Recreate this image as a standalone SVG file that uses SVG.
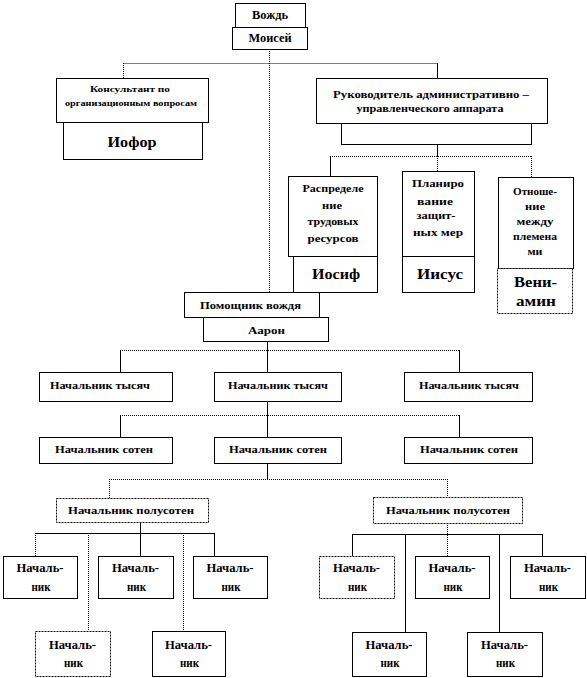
<svg xmlns="http://www.w3.org/2000/svg" width="587" height="678" viewBox="0 0 587 678">
<style>
.bx{fill:#fff;stroke:#000;stroke-width:1}
.bd{fill:#fff;stroke:#000;stroke-width:1;stroke-dasharray:2 1}
.t{font-family:"Liberation Serif","Times New Roman",serif;font-weight:bold;fill:#000;text-anchor:middle}
.s9{font-size:9px}
.s11{font-size:11px}
.s12{font-size:12px}
.s15{font-size:15px}
.c{fill:none;stroke:#000;stroke-width:1}
.cd{fill:none;stroke:#000;stroke-width:1;stroke-dasharray:1 1}
</style>
<rect width="587" height="678" fill="#fff"/>
<g id="connectors">
<path class="cd" d="M269.5 49V292M123.5 63.5H437M123.5 63V78"/>
<path class="c" d="M437.5 63V78M437.5 144V156"/>
<path class="cd" d="M437.5 156V171M330 156.5H531.5M531.5 156V177"/>
<path class="c" d="M330.5 156V176"/>
<path class="cd" d="M120 350.5H459"/>
<path class="c" d="M120.5 350V372M459.5 350V372M267.5 341V372M267.5 395V437"/>
<path class="cd" d="M120 415.5H459"/>
<path class="c" d="M120.5 415V437M459.5 415V437M267.5 463V479"/>
<path class="cd" d="M109 479.5H447.5M109.5 479V498M447.5 479V497"/>
<path class="c" d="M35 533.5H214.5M140.5 522V533M140.5 533V556M214.5 533V556"/>
<path class="cd" d="M35.5 533V556M88.5 533V631M183.5 533V631"/>
<path class="c" d="M352 534.5H542.5M352.5 534V556M405.5 534V632M499.5 534V632M542.5 534V556"/>
<path class="cd" d="M447.5 523V556"/>
</g>
<g id="vozhd"><rect class="bx" x="235.5" y="3.5" width="70" height="24"/><text class="t s12" x="270" y="19" textLength="36" lengthAdjust="spacingAndGlyphs">Вождь</text></g>
<g id="moisey"><rect class="bx" x="232.5" y="27.5" width="75" height="22"/><text class="t s12" x="270" y="42" textLength="43" lengthAdjust="spacingAndGlyphs">Моисей</text></g>
<g id="konsultant"><rect class="bx" x="56.5" y="78.5" width="152" height="44"/><text class="t s9" x="130" y="92" textLength="80" lengthAdjust="spacingAndGlyphs">Консультант по</text><text class="t s9" x="131" y="106" textLength="132" lengthAdjust="spacingAndGlyphs">организационным вопросам</text></g>
<g id="iofor"><rect class="bx" x="63.5" y="122.5" width="139" height="37"/><text class="t s15" x="132" y="147" textLength="49" lengthAdjust="spacingAndGlyphs">Иофор</text></g>
<g id="rukovoditel"><rect class="bx" x="316.5" y="78.5" width="231" height="45"/><text class="t s11" x="431" y="98" textLength="196" lengthAdjust="spacingAndGlyphs">Руководитель административно –</text><text class="t s11" x="430" y="112" textLength="147" lengthAdjust="spacingAndGlyphs">управленческого аппарата</text></g>
<g id="apparat"><rect class="bx" x="341.5" y="123.5" width="190" height="21"/></g>
<g id="raspredelenie"><rect class="bx" x="288.5" y="176.5" width="89" height="80"/><text class="t s11" x="333" y="192" textLength="61" lengthAdjust="spacingAndGlyphs">Распределе</text><text class="t s11" x="332" y="209" textLength="20" lengthAdjust="spacingAndGlyphs">ние</text><text class="t s11" x="333" y="225" textLength="51" lengthAdjust="spacingAndGlyphs">трудовых</text><text class="t s11" x="333" y="242" textLength="51" lengthAdjust="spacingAndGlyphs">ресурсов</text></g>
<g id="iosif"><rect class="bx" x="293.5" y="256.5" width="84" height="36"/><text class="t s15" x="336" y="279" textLength="48" lengthAdjust="spacingAndGlyphs">Иосиф</text></g>
<g id="planirovanie"><rect class="bx" x="402.5" y="171.5" width="72" height="85"/><text class="t s11" x="438" y="187" textLength="52" lengthAdjust="spacingAndGlyphs">Планиро</text><text class="t s11" x="435" y="205" textLength="36" lengthAdjust="spacingAndGlyphs">вание</text><text class="t s11" x="436" y="219" textLength="39" lengthAdjust="spacingAndGlyphs">защит-</text><text class="t s11" x="438" y="236" textLength="50" lengthAdjust="spacingAndGlyphs">ных мер</text></g>
<g id="iisus"><rect class="bx" x="402.5" y="256.5" width="72" height="36"/><text class="t s15" x="440" y="279" textLength="46" lengthAdjust="spacingAndGlyphs">Иисус</text></g>
<g id="otnoshenie"><rect class="bx" x="498.5" y="177.5" width="75" height="91"/><text class="t s11" x="535" y="195" textLength="44" lengthAdjust="spacingAndGlyphs">Отноше-</text><text class="t s11" x="535" y="210" textLength="20" lengthAdjust="spacingAndGlyphs">ние</text><text class="t s11" x="535" y="225" textLength="37" lengthAdjust="spacingAndGlyphs">между</text><text class="t s11" x="535" y="240" textLength="44" lengthAdjust="spacingAndGlyphs">племена</text><text class="t s11" x="535" y="255" textLength="15" lengthAdjust="spacingAndGlyphs">ми</text></g>
<g id="veniamin"><rect class="bd" x="497.5" y="268.5" width="75" height="45"/><text class="t s15" x="535.5" y="287" textLength="43" lengthAdjust="spacingAndGlyphs">Вени-</text><text class="t s15" x="536" y="306" textLength="40" lengthAdjust="spacingAndGlyphs">амин</text></g>
<g id="pomoshnik"><rect class="bx" x="184.5" y="292.5" width="135" height="25"/><text class="t s11" x="250.5" y="309" textLength="101" lengthAdjust="spacingAndGlyphs">Помощник вождя</text></g>
<g id="aaron"><rect class="bx" x="203.5" y="317.5" width="125" height="24"/><text class="t s11" x="266.5" y="334" textLength="37" lengthAdjust="spacingAndGlyphs">Аарон</text></g>
<g id="tysyach1"><rect class="bx" x="39.5" y="372.5" width="133" height="29"/><text class="t s11" x="100" y="389" textLength="100" lengthAdjust="spacingAndGlyphs">Начальник тысяч</text></g>
<g id="tysyach2"><rect class="bx" x="214.5" y="372.5" width="127" height="29"/><text class="t s11" x="278" y="389" textLength="100" lengthAdjust="spacingAndGlyphs">Начальник тысяч</text></g>
<g id="tysyach3"><rect class="bx" x="404.5" y="372.5" width="128" height="29"/><text class="t s11" x="469" y="389" textLength="100" lengthAdjust="spacingAndGlyphs">Начальник тысяч</text></g>
<g id="soten1"><rect class="bx" x="39.5" y="437.5" width="133" height="26"/><text class="t s11" x="104" y="453" textLength="98" lengthAdjust="spacingAndGlyphs">Начальник сотен</text></g>
<g id="soten2"><rect class="bx" x="214.5" y="437.5" width="127" height="26"/><text class="t s11" x="278" y="453" textLength="98" lengthAdjust="spacingAndGlyphs">Начальник сотен</text></g>
<g id="soten3"><rect class="bx" x="404.5" y="437.5" width="128" height="26"/><text class="t s11" x="469" y="453" textLength="98" lengthAdjust="spacingAndGlyphs">Начальник сотен</text></g>
<g id="polusoten1"><rect class="bd" x="56.5" y="498.5" width="152" height="24"/><text class="t s11" x="131" y="514" textLength="126" lengthAdjust="spacingAndGlyphs">Начальник полусотен</text></g>
<g id="polusoten2"><rect class="bd" x="373.5" y="497.5" width="149" height="26"/><text class="t s11" x="448" y="514" textLength="124" lengthAdjust="spacingAndGlyphs">Начальник полусотен</text></g>
<g id="nach1"><rect class="bx" x="3.5" y="556.5" width="74" height="42"/><text class="t s12" x="40" y="572" textLength="47" lengthAdjust="spacingAndGlyphs">Началь-</text><text class="t s12" x="41" y="591" textLength="19" lengthAdjust="spacingAndGlyphs">ник</text></g>
<g id="nach2"><rect class="bx" x="98.5" y="556.5" width="75" height="42"/><text class="t s12" x="135.5" y="572" textLength="47" lengthAdjust="spacingAndGlyphs">Началь-</text><text class="t s12" x="136.5" y="591" textLength="19" lengthAdjust="spacingAndGlyphs">ник</text></g>
<g id="nach3"><rect class="bx" x="193.5" y="556.5" width="74" height="42"/><text class="t s12" x="230" y="572" textLength="47" lengthAdjust="spacingAndGlyphs">Началь-</text><text class="t s12" x="231" y="591" textLength="19" lengthAdjust="spacingAndGlyphs">ник</text></g>
<g id="nach4"><rect class="bd" x="35.5" y="631.5" width="75" height="45"/><text class="t s12" x="72.5" y="649" textLength="47" lengthAdjust="spacingAndGlyphs">Началь-</text><text class="t s12" x="73.5" y="667" textLength="19" lengthAdjust="spacingAndGlyphs">ник</text></g>
<g id="nach5"><rect class="bx" x="152.5" y="631.5" width="73" height="45"/><text class="t s12" x="188.5" y="649" textLength="47" lengthAdjust="spacingAndGlyphs">Началь-</text><text class="t s12" x="189.5" y="667" textLength="19" lengthAdjust="spacingAndGlyphs">ник</text></g>
<g id="nach6"><rect class="bd" x="319.5" y="556.5" width="75" height="42"/><text class="t s12" x="356.5" y="572" textLength="47" lengthAdjust="spacingAndGlyphs">Началь-</text><text class="t s12" x="357.5" y="591" textLength="19" lengthAdjust="spacingAndGlyphs">ник</text></g>
<g id="nach7"><rect class="bx" x="415.5" y="556.5" width="74" height="42"/><text class="t s12" x="452" y="572" textLength="47" lengthAdjust="spacingAndGlyphs">Началь-</text><text class="t s12" x="453" y="591" textLength="19" lengthAdjust="spacingAndGlyphs">ник</text></g>
<g id="nach8"><rect class="bx" x="510.5" y="556.5" width="75" height="42"/><text class="t s12" x="547.5" y="572" textLength="47" lengthAdjust="spacingAndGlyphs">Началь-</text><text class="t s12" x="548.5" y="591" textLength="19" lengthAdjust="spacingAndGlyphs">ник</text></g>
<g id="nach9"><rect class="bx" x="352.5" y="632.5" width="74" height="44"/><text class="t s12" x="389" y="649" textLength="47" lengthAdjust="spacingAndGlyphs">Началь-</text><text class="t s12" x="390" y="667" textLength="19" lengthAdjust="spacingAndGlyphs">ник</text></g>
<g id="nach10"><rect class="bx" x="467.5" y="632.5" width="75" height="44"/><text class="t s12" x="504.5" y="649" textLength="47" lengthAdjust="spacingAndGlyphs">Началь-</text><text class="t s12" x="505.5" y="667" textLength="19" lengthAdjust="spacingAndGlyphs">ник</text></g>
</svg>
